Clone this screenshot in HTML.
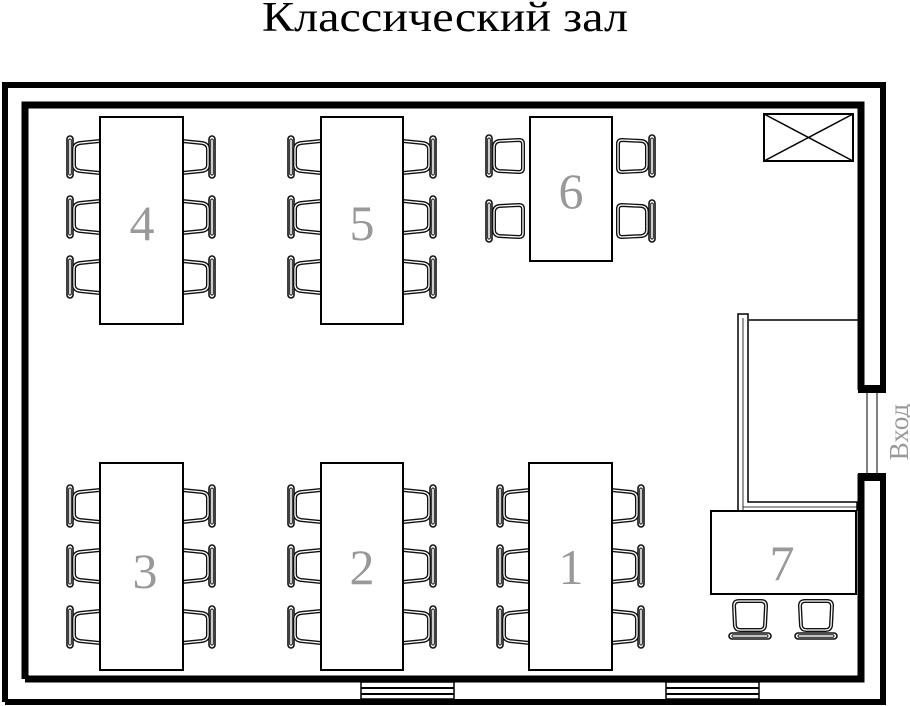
<!DOCTYPE html>
<html><head><meta charset="utf-8"><style>
html,body{margin:0;padding:0;background:#fff;}
svg{display:block;}
</style></head><body>
<svg width="910" height="706" viewBox="0 0 910 706" xmlns="http://www.w3.org/2000/svg">
<defs>
<g id="ch">
  <rect x="1" y="-21" width="6" height="42" rx="3" fill="#fff" stroke="#111" stroke-width="1.6"/>
  <rect x="2.7" y="-18" width="2.6" height="36" rx="1.3" fill="none" stroke="#111" stroke-width="1"/>
  <path d="M34,-16 L14,-14 Q8,-13 8,-8 L8,8 Q8,13 14,14 L34,16" fill="none" stroke="#111" stroke-width="4"/>
  <path d="M34,-16 L14,-14 Q8,-13 8,-8 L8,8 Q8,13 14,14 L34,16" fill="none" stroke="#fff" stroke-width="1.3"/>
</g>
<g id="chr"><use href="#ch" transform="scale(-1,1)"/></g>
<g id="chs">
  <rect x="1" y="-21" width="6" height="42" rx="3" fill="#fff" stroke="#111" stroke-width="1.6"/>
  <rect x="2.7" y="-18" width="2.6" height="36" rx="1.3" fill="none" stroke="#111" stroke-width="1"/>
  <path d="M14,-15 L34,-16 Q38,-16 38,-12 L38,12 Q38,16 34,16 L14,15 Q9,14 9,9 L9,-9 Q9,-14 14,-15 Z" fill="none" stroke="#111" stroke-width="4"/>
  <path d="M14,-15 L34,-16 Q38,-16 38,-12 L38,12 Q38,16 34,16 L14,15 Q9,14 9,9 L9,-9 Q9,-14 14,-15 Z" fill="none" stroke="#fff" stroke-width="1.3"/>
</g>
<g id="chsr"><use href="#chs" transform="scale(-1,1)"/></g>
<g id="chd">
  <path d="M-15,12 L-16,-8 Q-16,-13 -11,-13 L11,-13 Q16,-13 16,-8 L15,12 Q14,16 10,16 L-10,16 Q-14,16 -15,12 Z" fill="none" stroke="#111" stroke-width="4"/>
  <path d="M-15,12 L-16,-8 Q-16,-13 -11,-13 L11,-13 Q16,-13 16,-8 L15,12 Q14,16 10,16 L-10,16 Q-14,16 -15,12 Z" fill="none" stroke="#fff" stroke-width="1.3"/>
  <rect x="-21" y="19" width="42" height="6" rx="3" fill="#fff" stroke="#111" stroke-width="1.6"/>
  <rect x="-18" y="20.7" width="36" height="2.6" rx="1.3" fill="none" stroke="#111" stroke-width="1"/>
</g>
</defs>
<text x="445" y="31" text-anchor="middle" font-family="Liberation Serif, serif" font-size="42" textLength="366" lengthAdjust="spacingAndGlyphs" fill="#000">Классический зал</text>

<path d="M5,702 L5,85 L883,85 L883,390" fill="none" stroke="#000" stroke-width="6"/>
<path d="M883,474 L883,702 L5,702" fill="none" stroke="#000" stroke-width="6"/>
<path d="M25,679 L25,105 L861,105 L861,390" fill="none" stroke="#000" stroke-width="7"/>
<path d="M861,474 L861,679 L25,679" fill="none" stroke="#000" stroke-width="7"/>
<rect x="858" y="385" width="28" height="8" fill="#000"/>
<rect x="858" y="473" width="28" height="8" fill="#000"/>
<line x1="867" y1="393" x2="867" y2="473" stroke="#000" stroke-width="1"/>
<line x1="877" y1="393" x2="877" y2="473" stroke="#000" stroke-width="1"/>
<text transform="translate(908,432) rotate(-90)" text-anchor="middle" font-family="Liberation Serif, serif" font-size="27" fill="#999">Вход</text>
<g>
<rect x="361" y="682" width="93" height="17" fill="#fff" stroke="#000" stroke-width="1.5"/>
<line x1="361" y1="688" x2="454" y2="688" stroke="#000" stroke-width="2"/>
<line x1="361" y1="694" x2="454" y2="694" stroke="#000" stroke-width="2"/>
<rect x="666" y="682" width="93" height="17" fill="#fff" stroke="#000" stroke-width="1.5"/>
<line x1="666" y1="688" x2="759" y2="688" stroke="#000" stroke-width="2"/>
<line x1="666" y1="694" x2="759" y2="694" stroke="#000" stroke-width="2"/>
</g>

<rect x="764" y="114" width="89" height="47" fill="#fff" stroke="#000" stroke-width="2"/>
<line x1="764" y1="114" x2="853" y2="161" stroke="#000" stroke-width="1.5"/>
<line x1="853" y1="114" x2="764" y2="161" stroke="#000" stroke-width="1.5"/>

<line x1="749" y1="320" x2="858" y2="320" stroke="#000" stroke-width="1.5"/>
<path d="M738,511 L738,314 L748,314 L748,502 L857,502 L857,511" fill="#fff" stroke="#000" stroke-width="1.5"/>
<path d="M743,511 L743,318 M743,507 L857,507" fill="none" stroke="#000" stroke-width="0.8"/>

<g>
<use href="#ch" x="66" y="157"/><use href="#ch" x="66" y="217"/><use href="#ch" x="66" y="277"/>
<use href="#chr" x="216" y="157"/><use href="#chr" x="216" y="217"/><use href="#chr" x="216" y="277"/>
<use href="#ch" x="287" y="157"/><use href="#ch" x="287" y="217"/><use href="#ch" x="287" y="277"/>
<use href="#chr" x="437" y="157"/><use href="#chr" x="437" y="217"/><use href="#chr" x="437" y="277"/>
<use href="#chs" x="485" y="156"/><use href="#chs" x="485" y="221"/>
<use href="#chsr" x="656" y="156"/><use href="#chsr" x="656" y="221"/>
<use href="#ch" x="66" y="506"/><use href="#ch" x="66" y="566"/><use href="#ch" x="66" y="627"/>
<use href="#chr" x="216" y="506"/><use href="#chr" x="216" y="566"/><use href="#chr" x="216" y="627"/>
<use href="#ch" x="287" y="506"/><use href="#ch" x="287" y="566"/><use href="#ch" x="287" y="627"/>
<use href="#chr" x="437" y="506"/><use href="#chr" x="437" y="566"/><use href="#chr" x="437" y="627"/>
<use href="#ch" x="496" y="506"/><use href="#ch" x="496" y="566"/><use href="#ch" x="496" y="627"/>
<use href="#chr" x="645" y="506"/><use href="#chr" x="645" y="566"/><use href="#chr" x="645" y="627"/>
<use href="#chd" x="750" y="614"/><use href="#chd" x="816" y="614"/>
</g>

<g fill="#fff" stroke="#000" stroke-width="2">
<rect x="100" y="117" width="83" height="207"/>
<rect x="321" y="117" width="82" height="207"/>
<rect x="530" y="117" width="82" height="144"/>
<rect x="100" y="463" width="83" height="207"/>
<rect x="321" y="463" width="82" height="207"/>
<rect x="529" y="463" width="83" height="207"/>
<rect x="711" y="511" width="145" height="83"/>
</g>
<g font-family="Liberation Serif, serif" font-size="50" fill="#999" text-anchor="middle">
<text x="142" y="240">4</text>
<text x="362" y="240">5</text>
<text x="571" y="208">6</text>
<text x="145" y="588">3</text>
<text x="362" y="584">2</text>
<text x="571" y="584">1</text>
<text x="782" y="580">7</text>
</g>
</svg>
</body></html>
